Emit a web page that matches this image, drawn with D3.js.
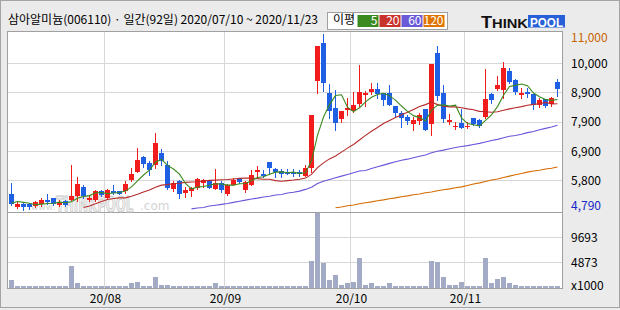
<!DOCTYPE html>
<html><head><meta charset="utf-8">
<script src="https://cdn.jsdelivr.net/npm/d3@7"></script>
<style>
html,body{margin:0;padding:0;background:#ebebeb;}
svg{display:block;font-family:"Noto Sans CJK KR","Noto Sans",sans-serif;}
</style>
</head><body>
<svg id="c" width="620" height="310"></svg>
<script>
// ---- data ----
const julDays = [10,13,14,15,16,17,20,21,22,23,24,27,28,29,30,31];
const augDays = [3,4,5,6,7,10,11,12,13,14,18,19,20,21,24,25,26,27,28,31];
const sepDays = [1,2,3,4,7,8,9,10,11,14,15,16,17,18,21,22,23,24,25,28,29];
const octDays = [5,6,7,8,12,13,14,15,16,19,20,21,22,23,26,27,28,29,30];
const novDays = [2,3,4,5,6,9,10,11,12,13,16,17,18,19,20,23];

const opens = [5330,4890,5010,4980,4920,5000,5120,5190,4960,5110,
  5140,5260,5610,5140,5140,5460,5220,5470,5440,5440,
  5830,6140,6640,6440,6380,6790,6380,5530,5800,5370,
  5440,5550,5740,5840,5540,5740,5330,5680,5910,5500,
  5680,6130,6040,6490,6220,6160,6130,6130,6120,6000,
  6270,9340,10700,8930,8400,7990,8320,8300,8520,8840,
  8950,9070,8930,8930,8460,8200,8070,7840,7930,8340,
  7810,10350,8930,7890,7710,7870,7710,8020,7950,8070,
  8870,9080,9020,9700,9380,8840,8960,8900,8490,8720,
  8540,9310];
const highs = [5740,5070,5040,5040,5090,5190,5330,5210,5140,5130,
  6360,5950,5670,5320,5500,5480,5520,5670,5470,5790,
  6260,6970,6680,6500,7500,6940,6530,5790,5830,5580,
  5610,5910,5890,5860,6240,5800,5700,5920,5930,5800,
  6180,6350,6200,6490,6270,6220,6220,6220,6180,6360,
  8140,10600,11000,9250,9010,8280,8750,8960,9900,8990,
  9280,9280,8930,9200,8460,8280,8140,8070,8220,8340,
  9930,10600,9220,8190,7900,8370,7900,8040,7990,9780,
  8930,9520,10030,9810,9400,9110,9110,8900,8730,8720,
  8790,9430];
const lows = [4950,4860,4790,4820,4880,4940,4980,4950,4930,4940,
  5120,5090,5220,5090,5110,5290,5200,5330,5330,5380,
  5790,6120,6320,6030,6260,6360,5540,5460,5190,5240,
  5260,5530,5590,5550,5510,5410,5300,5650,5740,5420,
  5660,6000,5960,6040,5960,5960,6040,5980,5980,6000,
  6130,8930,8990,8020,7600,7900,8140,8260,8460,8460,
  8900,8750,8490,8490,8070,7730,7810,7600,7840,7600,
  7450,8690,7890,7840,7630,7690,7670,7780,7730,8040,
  8580,9020,8750,9280,8900,8750,8790,8370,8420,8420,
  8460,8810];
const closes = [4980,5010,4890,4890,5060,5120,5070,4980,5080,4960,
  5280,5710,5280,5220,5460,5320,5500,5380,5350,5700,
  6060,6560,6420,6200,7150,6500,5550,5730,5330,5480,
  5550,5870,5840,5550,5740,5500,5670,5860,5780,5780,
  6030,6190,6000,6250,6120,6070,6070,6070,6040,6270,
  8140,10600,9280,8280,7870,8280,8400,8490,8950,8930,
  9070,8900,8690,8490,8200,8020,7930,7950,8160,7600,
  9930,8810,7990,7960,7770,7690,7770,7810,7770,8720,
  8690,9190,9810,9320,8960,8930,8900,8490,8690,8460,
  8750,9050];
// volume, x1000 shares
const volumes = [1450,290,290,290,290,290,480,290,290,290,
  4340,930,480,290,290,290,290,290,290,480,
  930,1120,480,290,2220,675,675,290,480,290,
  290,290,290,290,930,290,290,290,290,290,
  480,480,290,480,290,290,290,290,290,290,
  5300,14400,4860,1640,2600,675,930,1120,5820,675,
  930,480,480,930,480,290,290,290,290,480,
  5300,5110,2220,675,675,1120,480,480,290,5820,
  930,1770,2220,930,675,480,290,480,290,290,
  290,480];
const ma5 = [5020,5080,5050,5020,4970,4990,5010,5020,5060,5040,
  5070,5200,5260,5290,5390,5400,5360,5380,5400,5450,
  5600,5810,6020,6190,6480,6570,6360,6230,6050,5720,
  5530,5590,5610,5660,5710,5700,5660,5660,5710,5720,
  5820,5930,5960,6050,6120,6130,6100,6120,6070,6100,
  6520,7420,8070,8510,8830,8860,8420,8260,8400,8610,
  8770,8870,8910,8820,8670,8460,8270,8120,8050,7930,
  8310,8490,8500,8460,8490,8040,7840,7800,7760,7950,
  8150,8440,8840,9150,9190,9240,9180,8920,8790,8690,
  8660,8690];
const ma20 = [null,null,null,null,null,null,null,null,null,null,
  null,null,4870,4920,5000,5080,5150,5190,5210,5210,
  5270,5340,5420,5490,5590,5660,5680,5720,5730,5760,
  5770,5780,5810,5830,5840,5850,5860,5880,5900,5910,
  5910,5890,5870,5870,5820,5800,5820,5840,5870,5910,
  6040,6280,6450,6590,6690,6830,6970,7100,7260,7420,
  7570,7700,7840,7950,8050,8150,8240,8340,8440,8510,
  8600,8510,8450,8430,8430,8400,8360,8330,8270,8260,
  8240,8260,8310,8360,8400,8440,8490,8520,8540,8590,
  8530,8540];
const ma60 = [null,null,null,null,null,null,null,null,null,null,
  null,null,null,null,null,null,null,null,null,null,
  null,null,null,null,null,null,null,null,null,null,
  4820,4850,4870,4920,4950,4980,5010,5050,5090,5130,
  5170,5200,5240,5270,5310,5330,5380,5410,5450,5510,
  5590,5720,5800,5860,5920,5980,6040,6100,6160,6180,
  6250,6310,6370,6430,6490,6540,6580,6630,6680,6730,
  6810,6860,6900,6950,6990,7030,7060,7100,7140,7190,
  7240,7280,7340,7390,7420,7460,7520,7560,7620,7670,
  7720,7780];
const ma120 = [null,null,null,null,null,null,null,null,null,null,
  null,null,null,null,null,null,null,null,null,null,
  null,null,null,null,null,null,null,null,null,null,
  null,null,null,null,null,null,null,null,null,null,
  null,null,null,null,null,null,null,null,null,null,
  null,null,null,null,4860,4890,4930,4960,5000,5040,
  5070,5110,5140,5180,5210,5250,5280,5320,5350,5390,
  5420,5460,5500,5530,5570,5600,5650,5700,5740,5790,
  5840,5880,5930,5980,6030,6070,6120,6160,6190,6230,
  6260,6300];

const priceMin = 4790, priceMax = 11000;
const priceTicks = [9965, 8930, 7895, 6860, 5825];
const priceTickLabels = ['10,000','8,900','7,900','6,900','5,800'];
const volTicks = [9693, 4873];
const volTickLabels = ['9693','4873'];
const monthLabels = ['20/08','20/09','20/10','20/11'];
const monthStarts = ['2020-08-03','2020-09-01','2020-10-05','2020-11-02'];
const title = '삼아알미늄(006110) · 일간(92일) 2020/07/10 ~ 2020/11/23';
const legendLabels = ['5','20','60','120'];

// ---- build ----
const pad = n => String(n).padStart(2,'0');
const dates = [].concat(
  julDays.map(d=>'2020-07-'+pad(d)), augDays.map(d=>'2020-08-'+pad(d)),
  sepDays.map(d=>'2020-09-'+pad(d)), octDays.map(d=>'2020-10-'+pad(d)),
  novDays.map(d=>'2020-11-'+pad(d)));

const colors = {up:'#f21c1c', down:'#1f5fe3', vol:'#a3aac5', grid:'#d7d7d7', border:'#a0a0a0',
  ma5:'#3b8a1f', ma20:'#b72a2a', ma60:'#6a55da', ma120:'#d66c00'};
const legendColors = [colors.ma5, '#c8322c', '#6a5ad8', '#e07400'];

const svg = d3.select('#c');
const L = 7.5, R = 562.5, T = 31.5, B = 288.5, SEP = 212.5;

const x = d3.scaleBand().domain(dates).range([8.5, 560.5]).padding(0);
const y = d3.scaleLinear().domain([priceMin, priceMax]).range([209.75, 34.25]);
const yv = d3.scaleLinear().domain([0, 9693]).range([288, 237.8]);
const snap = v => Math.floor(v) + 0.5;

// frame
svg.append('rect').attr('x',0.5).attr('y',0.5).attr('width',619).attr('height',307)
  .attr('fill','#ebebeb').attr('stroke','#a4a4a4');
svg.append('rect').attr('x',L).attr('y',T).attr('width',R-L).attr('height',B-T)
  .attr('fill','#fff');

const g = svg.append('g').attr('shape-rendering','crispEdges');
// gridlines
g.selectAll('.hg').data(priceTicks).join('line')
  .attr('x1',L).attr('x2',R).attr('y1',d=>snap(y(d))).attr('y2',d=>snap(y(d)))
  .attr('stroke',colors.grid);
g.selectAll('.vg').data(volTicks).join('line')
  .attr('x1',L).attr('x2',R).attr('y1',d=>snap(yv(d))).attr('y2',d=>snap(yv(d)))
  .attr('stroke',colors.grid);
g.selectAll('.mg').data(monthStarts).join('line')
  .attr('x1',d=>x(d)).attr('x2',d=>x(d)).attr('y1',T).attr('y2',B)
  .attr('stroke',colors.grid);

// watermark
const wm = svg.append('g').attr('font-family','DejaVu Sans').attr('opacity',0.9);
wm.append('text').attr('x',31).attr('y',210).attr('font-size',9).attr('fill','#cfcfcf').text('www.');
wm.append('text').attr('transform','translate(56,212) scale(0.56,1)')
  .attr('font-size',21).attr('font-weight','bold')
  .attr('fill','#ececec').attr('stroke','#c4c4c4').attr('stroke-width',1).text('THINKPOOL');
wm.append('text').attr('x',140).attr('y',210).attr('font-size',12).attr('fill','#cfcfcf').text('.com');

// volume bars
g.selectAll('.vb').data(volumes).join('rect')
  .attr('x',(d,i)=>x(dates[i])+0.5).attr('width',5)
  .attr('y',d=>Math.round(yv(d))).attr('height',d=>Math.max(1,288-Math.round(yv(d))))
  .attr('fill',colors.vol);

// candles
const cg = svg.append('g').attr('shape-rendering','crispEdges');
dates.forEach((d,i)=>{
  const o=opens[i], c=closes[i], col = c>=o ? colors.up : colors.down;
  const cx = x(d)+3;
  cg.append('line').attr('x1',cx).attr('x2',cx).attr('y1',y(highs[i])).attr('y2',y(lows[i])+1)
    .attr('stroke',col);
  const yt = Math.round(y(Math.max(o,c))), yb = Math.round(y(Math.min(o,c)));
  cg.append('rect').attr('x',x(d)+0.5).attr('width',5).attr('y',yt).attr('height',Math.max(1,yb-yt))
    .attr('fill',col);
});

// moving averages
const line = d3.line().defined(d=>d!=null).x((d,i)=>x(dates[i])+3).y(d=>y(d));
[['ma120',ma120],['ma60',ma60],['ma20',ma20],['ma5',ma5]].forEach(([k,arr])=>{
  svg.append('path').datum(arr).attr('d',line).attr('fill','none')
    .attr('stroke',colors[k]).attr('stroke-width',1.1);
});

// borders
g.append('rect').attr('x',L).attr('y',T).attr('width',R-L).attr('height',B-T)
  .attr('fill','none').attr('stroke',colors.border);
g.append('line').attr('x1',L).attr('x2',R).attr('y1',SEP).attr('y2',SEP).attr('stroke',colors.border);

// right axis labels
const ax = svg.append('g').attr('font-size',12);
ax.selectAll('.pl').data(priceTicks).join('text')
  .attr('x',571).attr('y',d=>y(d)+1).attr('dominant-baseline','middle')
  .text((d,i)=>priceTickLabels[i]);
ax.append('text').attr('x',571).attr('y',Math.max(y(priceMax),T+6)+1).attr('dominant-baseline','middle')
  .attr('fill','#c86400').text(d3.format(',')(priceMax));
ax.append('text').attr('x',571).attr('y',Math.min(y(priceMin),SEP-6)).attr('dominant-baseline','middle')
  .attr('fill','#1428c8').text(d3.format(',')(priceMin));
ax.selectAll('.vl').data(volTicks).join('text')
  .attr('x',571).attr('y',d=>yv(d)+1).attr('dominant-baseline','middle')
  .text((d,i)=>volTickLabels[i]);
ax.append('text').attr('x',571).attr('y',B-2).attr('dominant-baseline','middle').text('x1000');

// month labels
ax.selectAll('.ml').data(monthStarts).join('text')
  .attr('x',d=>x(d)+1).attr('y',300).attr('text-anchor','middle').attr('dominant-baseline','middle')
  .text((d,i)=>monthLabels[i]);

// header
svg.append('text').attr('x',8).attr('y',21).attr('font-size',12).attr('dominant-baseline','middle')
  .text(title);
svg.append('rect').attr('x',327.5).attr('y',12.5).attr('width',120).attr('height',17)
  .attr('fill','#fff').attr('stroke','#a0a0a0');
svg.append('text').attr('x',333).attr('y',21).attr('font-size',12).attr('dominant-baseline','middle').text('이평');
const lg = svg.append('g');
legendLabels.forEach((t,i)=>{
  const bx = 357.5 + i*22;
  lg.append('rect').attr('x',bx).attr('y',15).attr('width',21).attr('height',12).attr('fill',legendColors[i]);
  lg.append('text').attr('x',bx+20).attr('y',21.5).attr('text-anchor','end').attr('dominant-baseline','middle')
    .attr('font-size',12).attr('fill','#fff').text(t);
});

// logo
const logo = svg.append('g').attr('font-family','Liberation Sans, Arial, sans-serif').attr('font-weight','bold');
const lt = logo.append('text').attr('x',481).attr('y',27.5).attr('fill','#111')
  .attr('textLength',47).attr('lengthAdjust','spacingAndGlyphs');
lt.append('tspan').attr('font-size',16).text('T');
lt.append('tspan').attr('font-size',13).text('HINK');
logo.append('rect').attr('x',528).attr('y',15).attr('width',37).attr('height',12.5).attr('fill','#2860d8');
logo.append('text').attr('x',530).attr('y',26.5).attr('font-size',13).attr('fill','#fff')
  .attr('textLength',33).attr('lengthAdjust','spacingAndGlyphs').text('POOL');
</script>
</body></html>
